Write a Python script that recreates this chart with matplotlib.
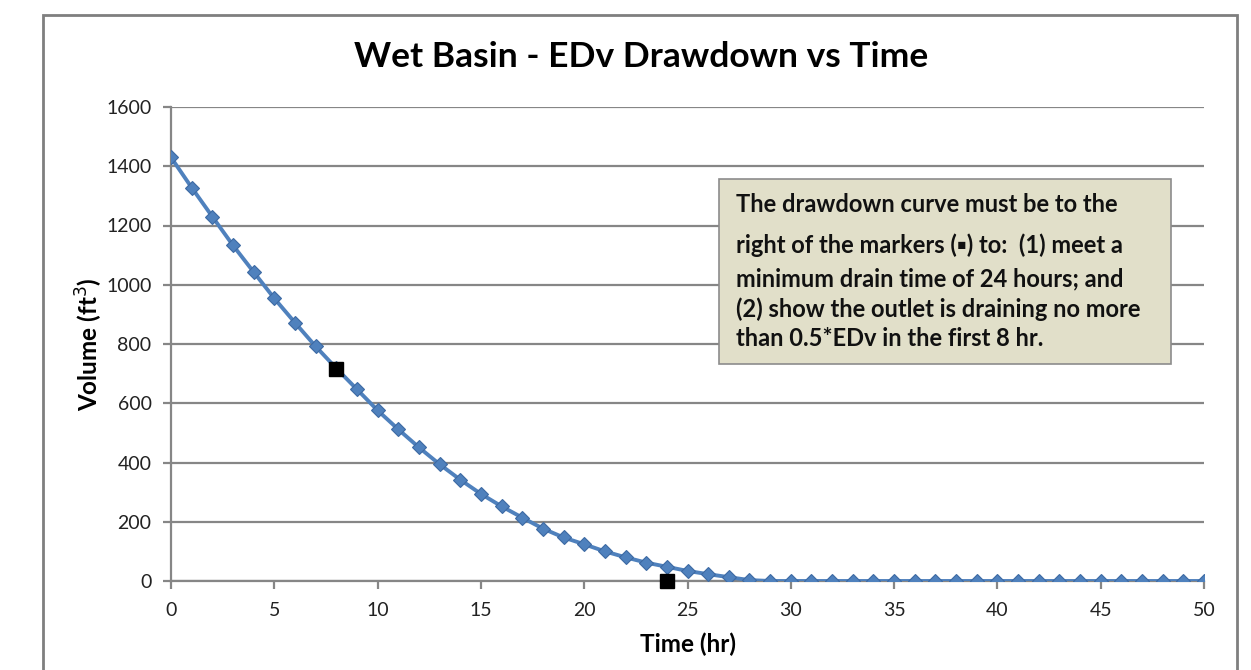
import numpy as np
import matplotlib.pyplot as plt
from matplotlib.patches import Rectangle

# data
hours = list(range(0, 51))
volume = [1430, 1328, 1230, 1133, 1043, 954, 872, 792, 718, 647,
          576, 512, 451, 394, 342, 294, 252, 214, 177, 147,
          124, 100, 80, 62, 48, 34, 23, 13, 3] + [0] * 22
check_t = [8, 24]
check_v = [716, 0]

x_ticks = [0, 5, 10, 15, 20, 25, 30, 35, 40, 45, 50]
y_ticks = [0, 200, 400, 600, 800, 1000, 1200, 1400, 1600]

note_lines = ["The drawdown curve must be to the",
              "right of the markers (\u25aa) to:  (1) meet a",
              "minimum drain time of 24 hours; and",
              "(2) show the outlet is draining no more",
              "than 0.5*EDv in the first 8 hr."]

plt.rcParams['font.family'] = ['Lato', 'DejaVu Sans']

W, H = 1251, 670
fig = plt.figure(figsize=(W / 100, H / 100), dpi=100)
fig.patch.set_facecolor('white')

# outer chart frame
fig.patches.append(Rectangle((43 / W, -0.05), (1237 - 43) / W, 1.05 - 15 / H,
                             transform=fig.transFigure, fill=False,
                             edgecolor='#7f7f7f', linewidth=2))

ax = fig.add_axes([171 / W, 1 - 581 / H, (1204 - 171) / W, (581 - 107) / H])

grid_col = '#868686'
ax.set_axisbelow(True)
ax.yaxis.grid(True, color=grid_col, linewidth=1.6)
for s in ['top', 'right']:
    ax.spines[s].set_visible(False)
for s in ['left', 'bottom']:
    ax.spines[s].set_color(grid_col)
    ax.spines[s].set_linewidth(1.6)

ax.plot(hours, volume, color='#4F81BD', linewidth=2.8, marker='D',
        markersize=7, markerfacecolor='#4F81BD', markeredgecolor='#3d6aa3',
        markeredgewidth=0.8, zorder=3)
ax.plot(check_t, check_v, linestyle='none', marker='s', markersize=10,
        color='black', zorder=4, clip_on=False)

ax.set_xlim(0, 50)
ax.set_ylim(0, 1600)
ax.set_xticks(x_ticks)
ax.set_yticks(y_ticks)
ax.tick_params(axis='both', labelsize=14, color=grid_col, width=1.6,
               length=6, direction='out', labelcolor='#222222')
ax.tick_params(axis='x', pad=9)
ax.tick_params(axis='y', pad=8)

ax.set_xlabel('Time (hr)', fontsize=17.5, fontweight='bold', labelpad=10)
ax.set_ylabel('Volume (ft$^3$)', fontsize=17.5, fontweight='bold', labelpad=1)

fig.text(641 / W, 1 - 57 / H, 'Wet Basin - EDv Drawdown vs Time',
         fontsize=25.5, fontweight='bold', ha='center', va='center')

# note box
fig.patches.append(Rectangle((719 / W, 1 - 364 / H), (1171 - 719) / W, (364 - 179) / H,
                             transform=fig.transFigure, facecolor='#e1dfc9',
                             edgecolor='#8c8c8c', linewidth=1.2, zorder=5))
line_y = [204, 245, 279, 309, 339]
for txt, yy in zip(note_lines, line_y):
    fig.text(736 / W, 1 - yy / H, txt, fontsize=17, fontweight='bold',
             ha='left', va='center', color='#111111', zorder=6)

plt.savefig('out.png', dpi=100)
